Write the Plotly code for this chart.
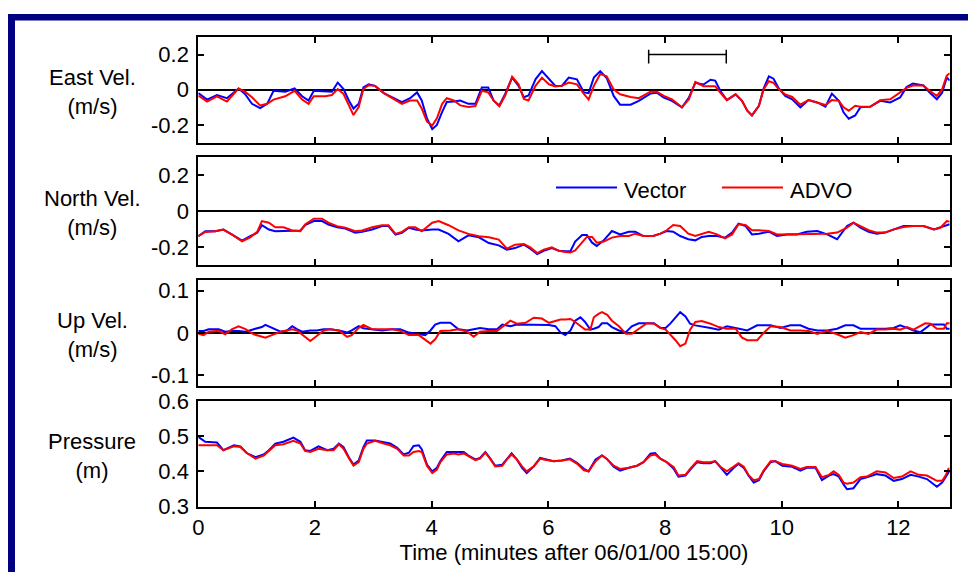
import plotly.graph_objects as go

W, H = 968, 572

# ---------------- data ----------------
t_east = [0.00,0.15,0.32,0.49,0.69,0.80,0.92,1.06,1.18,1.29,
          1.49,1.65,1.78,1.89,1.98,2.18,2.29,2.39,2.49,2.58,
          2.66,2.75,2.83,2.92,3.03,3.18,3.32,3.49,3.63,3.75,
          3.83,3.92,4.01,4.09,4.18,4.26,4.38,4.49,4.63,4.75,
          4.86,4.97,5.06,5.16,5.26,5.38,5.49,5.58,5.66,5.78,
          5.89,6.01,6.12,6.23,6.35,6.49,6.61,6.69,6.78,6.89,
          7.00,7.12,7.23,7.41,7.55,7.75,7.86,7.98,8.12,8.29,
          8.41,8.52,8.66,8.78,8.86,8.95,9.06,9.21,9.32,9.41,
          9.49,9.61,9.69,9.78,9.86,9.95,10.06,10.18,10.32,10.46,
          10.61,10.75,10.86,10.98,11.06,11.15,11.26,11.35,11.52,11.69,
          11.86,12.03,12.14,12.25,12.43,12.54,12.66,12.75,12.83,12.88]
east_vector = [-0.019,-0.056,-0.030,-0.048,0.007,-0.024,-0.080,-0.104,-0.080,-0.006,
               -0.011,0.007,-0.037,-0.061,-0.006,-0.011,-0.011,0.041,0.004,-0.061,
               -0.107,-0.080,0.013,0.031,0.022,-0.019,-0.043,-0.070,-0.048,-0.015,
               -0.061,-0.163,-0.224,-0.200,-0.126,-0.070,-0.067,-0.061,-0.080,-0.080,
               0.013,0.013,-0.061,-0.089,-0.024,0.069,0.022,-0.043,-0.033,0.059,
               0.106,0.059,0.022,0.022,0.069,0.059,-0.015,-0.019,0.069,0.106,
               0.067,-0.035,-0.085,-0.085,-0.063,-0.022,-0.017,-0.044,-0.063,-0.100,
               -0.044,0.039,0.030,0.057,0.052,-0.007,-0.059,-0.026,-0.063,-0.119,
               -0.146,-0.091,0.007,0.076,0.063,0.007,-0.035,-0.054,-0.100,-0.059,
               -0.072,-0.096,-0.022,-0.063,-0.128,-0.165,-0.146,-0.100,-0.096,-0.063,
               -0.072,-0.044,0.015,0.035,0.024,-0.017,-0.054,-0.017,0.070,0.052]
east_advo = [-0.033,-0.067,-0.037,-0.067,0.007,-0.011,-0.043,-0.089,-0.080,-0.056,
             -0.037,-0.006,-0.056,-0.080,-0.037,-0.037,-0.030,0.004,-0.024,-0.089,
             -0.144,-0.098,0.004,0.026,0.022,-0.019,-0.048,-0.080,-0.061,-0.061,
             -0.107,-0.181,-0.204,-0.163,-0.080,-0.048,-0.061,-0.089,-0.098,-0.093,
             -0.006,-0.015,-0.061,-0.094,-0.033,0.074,0.031,-0.052,-0.061,0.022,
             0.069,0.031,0.019,0.022,0.041,0.031,-0.024,-0.056,0.022,0.090,
             0.076,0.002,-0.026,-0.041,-0.048,-0.011,-0.011,-0.035,-0.054,-0.100,
             -0.054,0.044,0.020,0.020,0.020,-0.017,-0.059,-0.026,-0.063,-0.119,
             -0.146,-0.091,0.002,0.048,0.039,0.002,-0.026,-0.041,-0.085,-0.059,
             -0.072,-0.087,-0.059,-0.063,-0.100,-0.119,-0.091,-0.096,-0.096,-0.059,
             -0.054,-0.017,0.011,0.024,0.024,-0.007,-0.035,0.002,0.081,0.094]

t_north = [0.00,0.12,0.29,0.43,0.58,0.75,0.89,1.01,1.09,1.21,
           1.32,1.46,1.61,1.75,1.83,1.98,2.12,2.23,2.38,2.52,
           2.69,2.81,2.98,3.15,3.26,3.38,3.49,3.61,3.72,3.83,
           4.01,4.12,4.29,4.46,4.63,4.81,4.98,5.15,5.29,5.43,
           5.58,5.69,5.81,5.92,6.06,6.18,6.29,6.38,6.46,6.58,
           6.66,6.75,6.83,6.95,7.09,7.23,7.38,7.49,7.63,7.80,
           7.92,8.03,8.14,8.26,8.40,8.52,8.63,8.75,8.89,9.03,
           9.15,9.26,9.38,9.49,9.61,9.78,9.92,10.09,10.26,10.43,
           10.61,10.78,10.95,11.12,11.23,11.35,11.49,11.63,11.77,11.92,
           12.09,12.26,12.43,12.61,12.72,12.83,12.88]
north_vector = [-0.140,-0.112,-0.112,-0.103,-0.131,-0.164,-0.140,-0.121,-0.079,-0.103,
                -0.112,-0.112,-0.112,-0.108,-0.079,-0.056,-0.056,-0.075,-0.090,-0.097,
                -0.121,-0.116,-0.103,-0.084,-0.084,-0.131,-0.121,-0.093,-0.103,-0.108,
                -0.103,-0.103,-0.127,-0.168,-0.135,-0.146,-0.178,-0.191,-0.215,-0.206,
                -0.187,-0.209,-0.239,-0.221,-0.206,-0.221,-0.224,-0.222,-0.170,-0.133,
                -0.133,-0.176,-0.194,-0.163,-0.111,-0.130,-0.115,-0.115,-0.139,-0.139,
                -0.126,-0.111,-0.115,-0.139,-0.157,-0.163,-0.144,-0.139,-0.139,-0.148,
                -0.120,-0.070,-0.083,-0.130,-0.126,-0.115,-0.139,-0.130,-0.130,-0.115,
                -0.111,-0.130,-0.157,-0.083,-0.065,-0.093,-0.115,-0.126,-0.120,-0.102,
                -0.083,-0.083,-0.083,-0.102,-0.089,-0.078,-0.074]
north_advo = [-0.140,-0.116,-0.112,-0.103,-0.131,-0.168,-0.146,-0.116,-0.056,-0.065,
              -0.090,-0.090,-0.108,-0.112,-0.075,-0.043,-0.043,-0.065,-0.084,-0.093,
              -0.112,-0.108,-0.090,-0.079,-0.079,-0.127,-0.116,-0.090,-0.090,-0.112,
              -0.065,-0.056,-0.079,-0.108,-0.127,-0.140,-0.146,-0.159,-0.209,-0.187,
              -0.183,-0.202,-0.234,-0.215,-0.202,-0.221,-0.228,-0.231,-0.219,-0.176,
              -0.144,-0.144,-0.176,-0.170,-0.148,-0.139,-0.139,-0.126,-0.139,-0.139,
              -0.126,-0.107,-0.078,-0.083,-0.126,-0.139,-0.126,-0.115,-0.130,-0.152,
              -0.130,-0.074,-0.078,-0.107,-0.107,-0.111,-0.130,-0.130,-0.126,-0.126,
              -0.126,-0.126,-0.120,-0.093,-0.065,-0.083,-0.107,-0.120,-0.120,-0.102,
              -0.089,-0.083,-0.083,-0.102,-0.093,-0.056,-0.059]

t_up = [0.00,0.09,0.18,0.35,0.46,0.58,0.69,0.81,0.95,1.09,
        1.15,1.26,1.41,1.52,1.61,1.69,1.78,1.92,2.03,2.15,
        2.26,2.41,2.55,2.63,2.75,2.83,2.98,3.15,3.32,3.46,
        3.61,3.78,3.89,3.98,4.06,4.15,4.32,4.46,4.61,4.72,
        4.83,4.98,5.12,5.21,5.35,5.46,5.61,5.75,5.89,6.01,
        6.12,6.21,6.29,6.38,6.46,6.55,6.63,6.72,6.78,6.86,
        6.92,7.01,7.09,7.21,7.33,7.43,7.55,7.69,7.81,7.92,
        8.01,8.09,8.18,8.26,8.35,8.43,8.52,8.63,8.78,8.92,
        9.06,9.21,9.32,9.41,9.58,9.69,9.81,9.98,10.15,10.32,
        10.46,10.61,10.78,10.95,11.09,11.23,11.35,11.49,11.63,11.78,
        11.92,12.03,12.15,12.26,12.38,12.46,12.55,12.66,12.78,12.83,
        12.88]
up_vector = [0.005,0.005,0.009,0.009,0.003,0.005,0.005,0.003,0.009,0.014,
             0.019,0.012,0.003,0.006,0.016,0.009,0.003,0.006,0.006,0.009,
             0.009,0.006,0.001,0.006,0.016,0.011,0.009,0.006,0.009,0.009,
             0.001,-0.003,-0.005,0.006,0.020,0.024,0.024,0.009,0.006,0.009,
             0.012,0.009,0.009,0.020,0.016,0.020,0.020,0.020,0.020,0.019,
             0.016,0.001,-0.005,0.006,0.029,0.037,0.026,0.008,0.010,0.014,
             0.023,0.023,0.014,0.006,0.002,0.016,0.023,0.023,0.023,0.012,
             0.012,0.022,0.037,0.049,0.039,0.022,0.018,0.016,0.012,0.008,
             0.016,0.012,0.008,0.006,0.018,0.018,0.018,0.012,0.018,0.018,
             0.010,0.006,0.006,0.010,0.018,0.018,0.010,0.010,0.010,0.010,
             0.012,0.018,0.012,0.006,0.002,0.010,0.020,0.020,0.020,0.010,
             0.010]
up_advo = [-0.002,-0.005,0.003,0.005,-0.003,0.009,0.016,0.009,-0.003,-0.009,
           -0.011,-0.005,0.003,0.006,0.009,0.006,-0.003,-0.019,-0.007,0.006,
           0.009,0.006,-0.009,-0.005,0.012,0.019,0.009,0.009,0.009,0.005,
           -0.005,-0.005,-0.015,-0.025,-0.015,0.005,0.006,0.009,0.003,-0.009,
           0.003,0.005,0.005,0.014,0.029,0.022,0.024,0.036,0.034,0.024,
           0.029,0.032,0.032,0.033,0.026,0.016,0.008,0.008,0.037,0.045,
           0.049,0.043,0.029,0.016,-0.002,-0.002,0.010,0.023,0.022,0.012,
           0.008,-0.003,-0.017,-0.031,-0.025,0.008,0.026,0.028,0.022,0.014,
           0.010,0.010,-0.011,-0.017,-0.017,0.000,0.016,0.014,0.006,0.006,
           0.005,-0.002,0.005,-0.003,-0.011,-0.005,0.002,-0.002,0.008,0.008,
           0.010,0.008,0.014,0.008,0.018,0.023,0.022,0.010,0.010,0.023,
           0.023]

t_pres = [0.00,0.12,0.32,0.43,0.61,0.72,0.83,0.98,1.12,1.21,
          1.32,1.46,1.63,1.75,1.83,1.92,2.06,2.21,2.32,2.41,
          2.49,2.58,2.66,2.75,2.83,2.89,3.03,3.18,3.29,3.41,
          3.52,3.61,3.69,3.78,3.83,3.92,4.01,4.09,4.15,4.26,
          4.38,4.46,4.55,4.63,4.75,4.83,4.92,5.00,5.09,5.21,
          5.29,5.37,5.46,5.55,5.63,5.75,5.86,5.97,6.09,6.23,
          6.37,6.49,6.61,6.69,6.81,6.92,7.00,7.12,7.23,7.38,
          7.52,7.63,7.75,7.83,7.92,8.03,8.15,8.23,8.35,8.43,
          8.55,8.66,8.78,8.86,8.95,9.06,9.18,9.26,9.35,9.43,
          9.52,9.61,9.69,9.81,9.89,10.01,10.18,10.32,10.43,10.58,
          10.69,10.81,10.89,10.98,11.06,11.12,11.23,11.35,11.46,11.63,
          11.78,11.92,12.06,12.21,12.35,12.49,12.66,12.75,12.81,12.86,
          12.88]
pres_vector = [0.498,0.484,0.482,0.460,0.474,0.471,0.452,0.440,0.448,0.460,
               0.479,0.484,0.496,0.484,0.460,0.458,0.471,0.460,0.464,0.479,
               0.469,0.440,0.419,0.431,0.469,0.488,0.488,0.484,0.479,0.467,
               0.448,0.453,0.472,0.474,0.463,0.419,0.400,0.410,0.429,0.455,
               0.455,0.455,0.455,0.445,0.434,0.438,0.455,0.438,0.416,0.419,
               0.434,0.451,0.434,0.410,0.395,0.414,0.438,0.434,0.429,0.431,
               0.436,0.424,0.407,0.400,0.434,0.445,0.436,0.413,0.402,0.410,
               0.416,0.426,0.450,0.452,0.436,0.426,0.407,0.385,0.388,0.404,
               0.426,0.423,0.423,0.429,0.410,0.390,0.410,0.421,0.410,0.388,
               0.368,0.375,0.400,0.426,0.429,0.416,0.413,0.402,0.410,0.410,
               0.375,0.388,0.392,0.385,0.363,0.349,0.352,0.378,0.383,0.392,
               0.388,0.373,0.378,0.390,0.385,0.378,0.356,0.368,0.383,0.400,
               0.402]
pres_advo = [0.474,0.474,0.474,0.460,0.471,0.469,0.452,0.436,0.445,0.458,
             0.474,0.477,0.487,0.479,0.458,0.455,0.464,0.460,0.460,0.477,
             0.464,0.438,0.416,0.426,0.464,0.479,0.487,0.479,0.474,0.464,
             0.445,0.445,0.455,0.458,0.455,0.416,0.395,0.405,0.426,0.448,
             0.451,0.448,0.451,0.443,0.432,0.436,0.453,0.436,0.414,0.416,
             0.434,0.448,0.434,0.414,0.400,0.414,0.436,0.432,0.429,0.431,
             0.434,0.422,0.403,0.400,0.429,0.445,0.436,0.416,0.407,0.410,
             0.416,0.426,0.445,0.448,0.436,0.426,0.412,0.388,0.390,0.407,
             0.429,0.426,0.426,0.429,0.413,0.400,0.413,0.423,0.413,0.390,
             0.375,0.378,0.402,0.429,0.429,0.421,0.416,0.407,0.412,0.412,
             0.383,0.390,0.400,0.390,0.368,0.365,0.368,0.383,0.385,0.400,
             0.397,0.381,0.385,0.400,0.390,0.388,0.373,0.373,0.388,0.407,
             0.407]

# interval bar in the top panel (start, end in minutes, level in m/s)
bar_t = [7.72, 9.05]
bar_level = 0.2

panel_labels = ["East Vel.<br>(m/s)", "North Vel.<br>(m/s)", "Up Vel.<br>(m/s)", "Pressure<br>(m)"]
vel_ticks = [-0.2, 0, 0.2]
vel_ticktext = ["-0.2", "0", "0.2"]
up_ticks = [-0.1, 0, 0.1]
up_ticktext = ["-0.1", "0", "0.1"]
pres_ticks = [0.3, 0.4, 0.5, 0.6]
pres_ticktext = ["0.3", "0.4", "0.5", "0.6"]
time_ticks = [0, 2, 4, 6, 8, 10, 12]
series_names = ["Vector", "ADVO"]
x_title = "Time (minutes after 06/01/00 15:00)"

# ---------------- figure ----------------
FONT = "Arial, Liberation Sans, Helvetica, sans-serif"
FS = 22
BLUE, RED = "#0000ff", "#ff0000"

def py(pix):
    return 1 - pix / H

def px(pix):
    return pix / W

x_dom = [px(198.3), px(949.7)]
y_doms = [[py(142.5), py(37)], [py(265), py(157)], [py(386), py(280)], [py(506.5), py(401)]]
y_ranges = [[-0.3, 0.3], [-0.3, 0.3], [-0.125, 0.125], [0.3, 0.6]]
y_tick = [(vel_ticks, vel_ticktext), (vel_ticks, vel_ticktext), (up_ticks, up_ticktext), (pres_ticks, pres_ticktext)]

fig = go.Figure()
data_sets = [(t_east, east_vector, east_advo), (t_north, north_vector, north_advo),
             (t_up, up_vector, up_advo), (t_pres, pres_vector, pres_advo)]

for i, (tt, vv, aa) in enumerate(data_sets):
    xa = "x" if i == 0 else f"x{i+1}"
    ya = "y" if i == 0 else f"y{i+1}"
    fig.add_trace(go.Scatter(x=tt, y=vv, mode="lines", line=dict(color=BLUE, width=2),
                             name=series_names[0], showlegend=False, xaxis=xa, yaxis=ya,
                             hoverinfo="skip"))
    fig.add_trace(go.Scatter(x=tt, y=aa, mode="lines", line=dict(color=RED, width=2),
                             name=series_names[1], showlegend=False, xaxis=xa, yaxis=ya,
                             hoverinfo="skip"))

# interval bar
fig.add_trace(go.Scatter(x=bar_t, y=[bar_level] * len(bar_t), mode="lines",
                         line=dict(color="black", width=1.5), showlegend=False,
                         error_y=dict(type="data", symmetric=False, array=[0.028] * 2,
                                      arrayminus=[0.05] * 2, color="black", thickness=1.5, width=0),
                         xaxis="x", yaxis="y", hoverinfo="skip"))

layout = dict(
    width=W, height=H, margin=dict(l=0, r=0, t=0, b=0, pad=0, autoexpand=False),
    paper_bgcolor="white", plot_bgcolor="white",
    font=dict(family=FONT, size=FS, color="black"),
    showlegend=False,
)

for i in range(4):
    xk = "xaxis" if i == 0 else f"xaxis{i+1}"
    yk = "yaxis" if i == 0 else f"yaxis{i+1}"
    ya = "y" if i == 0 else f"y{i+1}"
    xa = "x" if i == 0 else f"x{i+1}"
    layout[xk] = dict(domain=x_dom, range=[0, 12.88], anchor=ya, automargin=False,
                      tickvals=time_ticks, ticktext=[str(v) for v in time_ticks],
                      showticklabels=(i == 3), ticks="inside", ticklen=6, tickwidth=1.5,
                      tickcolor="black", showline=True, linecolor="black", linewidth=2,
                      mirror="allticks", showgrid=False, zeroline=False,
                      tickfont=dict(size=FS))
    if i == 3:
        layout[xk]["title"] = dict(text=x_title, font=dict(size=FS), standoff=2)
    tv, tt = y_tick[i]
    layout[yk] = dict(domain=y_doms[i], range=y_ranges[i], anchor=xa, automargin=False,
                      tickvals=tv, ticktext=tt, ticks="inside", ticklen=6, tickwidth=1.5,
                      tickcolor="black", showline=True, linecolor="black", linewidth=2,
                      mirror="allticks", showgrid=False,
                      zeroline=(i < 3), zerolinecolor="black", zerolinewidth=2,
                      tickfont=dict(size=FS), ticklabelstandoff=3)

annotations = []
for i, lab in enumerate(panel_labels):
    yc = (y_doms[i][0] + y_doms[i][1]) / 2 - 2 / H
    annotations.append(dict(text=lab, x=px(92), y=yc, xref="paper", yref="paper",
                            xanchor="center", yanchor="middle", showarrow=False,
                            font=dict(size=FS, family=FONT, color="black"), align="center"))

# legend (key lines + labels) inside the North panel
legend_keys = [(series_names[0], BLUE, 556, 617), (series_names[1], RED, 722, 783)]
shapes = []
for name, col, xs, xe in legend_keys:
    shapes.append(dict(type="line", xref="paper", yref="paper", x0=px(xs), x1=px(xe),
                       y0=py(187.5), y1=py(187.5), line=dict(color=col, width=2)))
    annotations.append(dict(text=name, x=px(xe + 5), y=py(190), xref="paper", yref="paper",
                            xanchor="left", yanchor="middle", showarrow=False,
                            font=dict(size=FS, family=FONT, color="black")))
layout["annotations"] = annotations

# navy frame
NAVY = "#000080"
shapes += [
    dict(type="rect", xref="paper", yref="paper", x0=px(8), x1=1.0, y0=py(20.5), y1=py(14),
         fillcolor=NAVY, line=dict(width=0), layer="above"),
    dict(type="rect", xref="paper", yref="paper", x0=px(8), x1=px(15), y0=0, y1=py(14),
         fillcolor=NAVY, line=dict(width=0), layer="above"),
]
layout["shapes"] = shapes

fig.update_layout(**layout)
fig.write_html("out.html")
